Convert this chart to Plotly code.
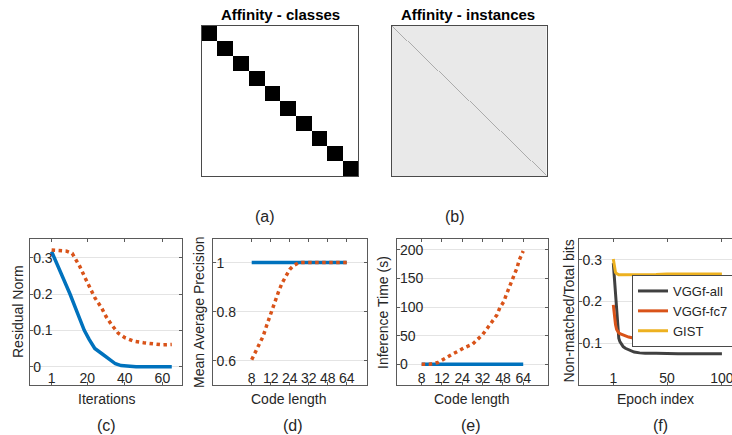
import plotly.graph_objects as go

# ---------------- data ----------------
# (a) class affinity: 10 classes, block diagonal
class_ids = list(range(10))
# (b) instance affinity: self-affinity on the diagonal only
n_instances = 155
instance_self = 1.0
instance_cross = 0.0

# (c) residual norm vs iterations
iter_blue = [1, 5, 10.8, 15, 18.4, 21, 24, 28, 32, 35, 38, 42, 46, 50, 55, 60, 65]
resid_blue = [0.317, 0.27, 0.2, 0.145, 0.1, 0.075, 0.05, 0.035, 0.018, 0.008, 0.003, 0.001, 0.0, 0.0, 0.0, 0.0, 0.0]
iter_red = [1, 5, 9, 12, 14, 16, 19, 21.5, 24, 27.5, 30, 33, 36.5, 40, 45, 50, 55, 60, 65]
resid_red = [0.321, 0.32, 0.318, 0.312, 0.295, 0.276, 0.243, 0.218, 0.19, 0.163, 0.138, 0.115, 0.092, 0.08, 0.07, 0.066, 0.063, 0.06, 0.061]

# code length categories (d), (e)
code_labels = ['8', '12', '24', '32', '48', '64']
code_pos = [1, 2, 3, 4, 5, 6]

# (d) mean average precision
map_blue = [1, 1, 1, 1, 1, 1]
map_red_x = [1, 1.2, 1.4, 1.6, 1.8, 2.0, 2.2, 2.4, 2.6, 2.8, 3.0, 3.2, 3.5, 4, 5, 6]
map_red = [0.605, 0.635, 0.666, 0.70, 0.747, 0.793, 0.838, 0.879, 0.917, 0.948, 0.972, 0.988, 1.0, 1.0, 1.0, 1.0]

# (e) inference time
time_blue = [0, 0, 0, 0, 0, 0]
time_red_x = [1, 1.4, 1.8, 2.1, 2.5, 2.8, 3.1, 3.5, 3.75, 4.0, 4.25, 4.5, 4.7, 4.85, 5.05, 5.15, 5.3, 5.45, 5.55, 5.7, 5.8, 5.93, 6.0]
time_red = [0, 0, 3, 10, 17.5, 23, 29, 35, 44, 52, 64, 76, 86, 99, 110, 120, 133, 146, 157, 169, 182, 195, 198]

# (f) non-matched / total bits
epochs = [1, 2, 3, 4, 5, 6, 7, 8, 10, 12, 15, 20, 25, 30, 40, 50, 60, 70, 80, 90, 100]
vgg_all = [0.292, 0.255, 0.21, 0.165, 0.13, 0.112, 0.104, 0.099, 0.092, 0.088, 0.084, 0.079, 0.077, 0.076, 0.076, 0.075, 0.075, 0.075, 0.075, 0.075, 0.075]
vgg_fc7 = [0.192, 0.165, 0.145, 0.133, 0.128, 0.125, 0.123, 0.122, 0.119, 0.117, 0.115, 0.112, 0.110, 0.108, 0.106, 0.105, 0.105, 0.104, 0.104, 0.104, 0.104]
gist = [0.302, 0.280, 0.270, 0.267, 0.265, 0.264, 0.264, 0.264, 0.264, 0.264, 0.264, 0.265, 0.265, 0.265, 0.265, 0.266, 0.266, 0.266, 0.266, 0.266, 0.266]

# ---------------- layout helpers ----------------
W, H = 732, 435
FONT = 'Liberation Sans, Arial, sans-serif'
BLUE = '#0072BD'
RED = '#D95319'
YEL = '#EDB120'
DARK = '#404040'
AXC = '#5a5a5a'
GRID = '#E4E4E4'
TXT = '#262626'


def dx(a, b):
    return [a / W, min(b / W, 1.0)]


def dy(top, bot):
    return [1 - bot / H, 1 - top / H]


z_classes = [[1 if ci == cj else 0 for cj in class_ids] for ci in class_ids]
z_inst = [[instance_self if i == j else instance_cross for j in range(n_instances)] for i in range(n_instances)]

fig = go.Figure()

fig.add_trace(go.Heatmap(z=z_classes, colorscale=[[0, 'white'], [1, 'black']],
                         showscale=False, xaxis='x', yaxis='y', hoverinfo='skip'))
fig.add_trace(go.Heatmap(z=z_inst, colorscale=[[0, '#E9E9E9'], [1, '#ABABAB']],
                         showscale=False, xaxis='x2', yaxis='y2', hoverinfo='skip'))

# (c)
fig.add_trace(go.Scatter(x=iter_blue, y=resid_blue, mode='lines', line=dict(color=BLUE, width=3.5),
                         xaxis='x3', yaxis='y3', showlegend=False))
fig.add_trace(go.Scatter(x=iter_red, y=resid_red, mode='lines', line=dict(color=RED, width=3.5, dash='dot'),
                         xaxis='x3', yaxis='y3', showlegend=False))
# (d)
fig.add_trace(go.Scatter(x=code_pos, y=map_blue, mode='lines', line=dict(color=BLUE, width=3.5),
                         xaxis='x4', yaxis='y4', showlegend=False))
fig.add_trace(go.Scatter(x=map_red_x, y=map_red, mode='lines', line=dict(color=RED, width=3.5, dash='dot'),
                         xaxis='x4', yaxis='y4', showlegend=False))
# (e)
fig.add_trace(go.Scatter(x=code_pos, y=time_blue, mode='lines', line=dict(color=BLUE, width=3.5),
                         xaxis='x5', yaxis='y5', showlegend=False))
fig.add_trace(go.Scatter(x=time_red_x, y=time_red, mode='lines', line=dict(color=RED, width=3.5, dash='dot'),
                         xaxis='x5', yaxis='y5', showlegend=False))
# (f)
fig.add_trace(go.Scatter(x=epochs, y=vgg_all, mode='lines', name='VGGf-all', line=dict(color=DARK, width=3),
                         xaxis='x6', yaxis='y6'))
fig.add_trace(go.Scatter(x=epochs, y=vgg_fc7, mode='lines', name='VGGf-fc7', line=dict(color=RED, width=3),
                         xaxis='x6', yaxis='y6'))
fig.add_trace(go.Scatter(x=epochs, y=gist, mode='lines', name='GIST', line=dict(color=YEL, width=3),
                         xaxis='x6', yaxis='y6'))

img_ax = dict(showticklabels=False, ticks='', showgrid=False, zeroline=False,
              showline=True, mirror=True, linecolor='#4a4a4a', linewidth=1)


def xa(domain, rng, tv, tt, anchor, mirror='ticks'):
    return dict(domain=domain, range=rng, tickvals=tv, ticktext=tt, anchor=anchor,
                showgrid=False, zeroline=False, showline=True, mirror=mirror,
                linecolor=AXC, linewidth=1, ticks='inside', ticklen=3, tickcolor=AXC,
                ticklabelposition='inside', ticklabelstandoff=-4,
                tickfont=dict(size=14, color=TXT, family=FONT),
                ticklabeloverflow='allow')


def ya(domain, rng, tv, tt, anchor, mirror='ticks'):
    return dict(domain=domain, range=rng, tickvals=tv, ticktext=tt, anchor=anchor,
                showgrid=True, gridcolor=GRID, gridwidth=1, zeroline=False, showline=True,
                mirror=mirror, linecolor=AXC, linewidth=1, ticks='inside', ticklen=3, tickcolor=AXC,
                ticklabelposition='inside', tickfont=dict(size=14, color=TXT, family=FONT),
                ticklabeloverflow='allow')


PY = dy(239, 385)

layout = dict(
    width=W, height=H, margin=dict(l=0, r=0, t=0, b=0, autoexpand=False),
    paper_bgcolor='white', plot_bgcolor='white',
    font=dict(family=FONT, size=14, color=TXT),
    xaxis=dict(img_ax, domain=dx(201.7, 358.3), range=[-0.5, 9.5], anchor='y'),
    yaxis=dict(img_ax, domain=dy(26, 176), range=[9.5, -0.5], anchor='x'),
    xaxis2=dict(img_ax, domain=dx(391.7, 546.7), range=[-0.5, n_instances - 0.5], anchor='y2'),
    yaxis2=dict(img_ax, domain=dy(26, 176), range=[n_instances - 0.5, -0.5], anchor='x2'),
    xaxis3=xa(dx(30, 182.3), [-10.5, 70.6], [1, 20, 40, 60], ['1', '20', '40', '60'], 'y3'),
    yaxis3=ya(PY, [-0.0504, 0.3515], [0, 0.1, 0.2, 0.3], ['0', '0.1', '0.2', '0.3'], 'x3'),
    xaxis4=xa(dx(213.3, 366.5), [-1.02, 7.04], code_pos, code_labels, 'y4'),
    yaxis4=ya(PY, [0.502, 1.096], [0.6, 0.8, 1.0], ['0.6', '0.8', '1'], 'x4'),
    xaxis5=xa(dx(396.7, 548), [-0.23, 7.22], code_pos, code_labels, 'y5'),
    yaxis5=ya(PY, [-36.2, 219.1], [0, 50, 100, 150, 200], ['0', '50', '100', '150', '200'], 'x5'),
    xaxis6=xa(dx(579.3, 732), [-30, 109.2], [1, 50, 100], ['1', '50', '100'], 'y6'),
    yaxis6=ya(PY, [0, 0.35], [0.1, 0.2, 0.3], ['0.1', '0.2', '0.3'], 'x6', mirror=False),
    legend=dict(x=632 / W, y=1 - 275 / H, xanchor='left', yanchor='top',
                bgcolor='white', bordercolor='#4a4a4a', borderwidth=1,
                font=dict(size=13, color=TXT, family=FONT), tracegroupgap=0),
    showlegend=True,
)


def ann(text, cx, cy, size=14, angle=0, bold=False):
    return dict(text=('<b>%s</b>' % text) if bold else text, x=cx / W, y=1 - cy / H,
                xref='paper', yref='paper', showarrow=False, xanchor='center', yanchor='middle',
                textangle=angle, font=dict(size=size, color='black' if bold else TXT, family=FONT))


layout['annotations'] = [
    ann('Affinity - classes', 280, 15, size=15, bold=True),
    ann('Affinity - instances', 468, 15, size=15, bold=True),
    ann('(a)', 265, 216, size=16),
    ann('(b)', 455, 216, size=16),
    ann('Iterations', 106.5, 399),
    ann('Code length', 289, 399),
    ann('Code length', 472, 399),
    ann('Epoch index', 655, 399),
    ann('Residual Norm', 18, 312, angle=-90),
    ann('Mean Average Precision', 199, 312, angle=-90),
    ann('Inference Time (s)', 383, 313, angle=-90),
    ann('Non-matched/Total bits', 568.5, 311, angle=-90),
    ann('(c)', 106, 425, size=16),
    ann('(d)', 292.5, 425, size=16),
    ann('(e)', 471, 425, size=16),
    ann('(f)', 660, 425, size=16),
]

fig.update_layout(layout)
fig.write_html('out.html', config={'displayModeBar': False},
               post_script="document.body.style.margin='0px';document.body.style.overflow='hidden';")
